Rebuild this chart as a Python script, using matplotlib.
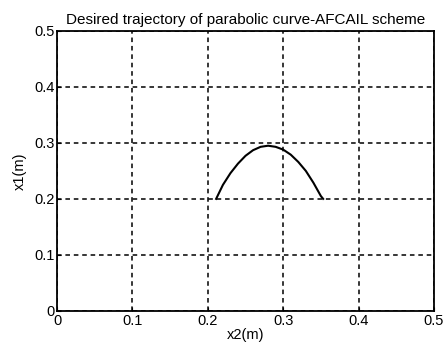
import matplotlib
matplotlib.use("Agg")
import matplotlib.pyplot as plt

# desired trajectory
x2 = [0.211, 0.22, 0.23, 0.24, 0.25, 0.26, 0.27, 0.28, 0.29, 0.30,
      0.31, 0.32, 0.33, 0.34, 0.35, 0.353]
x1 = [0.200, 0.225, 0.246, 0.263, 0.277, 0.287, 0.293, 0.295, 0.293, 0.288,
      0.279, 0.266, 0.250, 0.229, 0.205, 0.200]

xticks = [0, 0.1, 0.2, 0.3, 0.4, 0.5]
yticks = [0, 0.1, 0.2, 0.3, 0.4, 0.5]
xtick_labels = ["0", "0.1", "0.2", "0.3", "0.4", "0.5"]
ytick_labels = ["0", "0.1", "0.2", "0.3", "0.4", "0.5"]

plt.rcParams["font.family"] = ["Liberation Sans", "DejaVu Sans"]

fig = plt.figure(figsize=(4.46, 3.52), dpi=100)
ax = fig.add_axes([0.128, 0.117, 0.845, 0.795])

ax.plot(x2, x1, color="black", linewidth=1.5)

ax.set_xlim(0, 0.5)
ax.set_ylim(0, 0.5)
ax.set_xticks(xticks)
ax.set_xticklabels(xtick_labels)
ax.set_yticks(yticks)
ax.set_yticklabels(ytick_labels)
ax.tick_params(direction="in", length=3, labelsize=10.5, colors="black", pad=2)

ax.grid(True, color="black", linestyle=(0, (3, 2.5)), linewidth=1.1)
for spine in ax.spines.values():
    spine.set_linewidth(1.3)
    spine.set_color("black")

ax.set_title("Desired trajectory of parabolic curve-AFCAIL scheme", fontsize=11, pad=5)
ax.set_xlabel("x2(m)", fontsize=10.5, labelpad=0)
ax.set_ylabel("x1(m)", fontsize=10.5, labelpad=5)

fig.savefig("out.png", dpi=100)
plt.close(fig)
